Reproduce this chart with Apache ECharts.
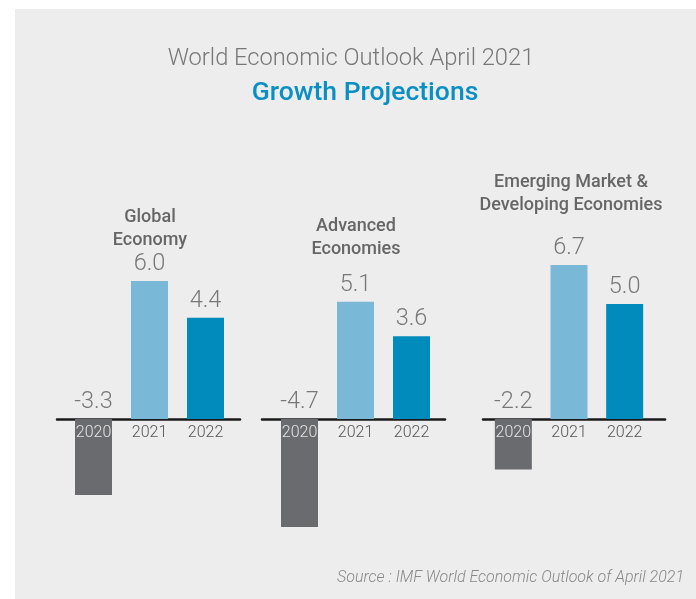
<!DOCTYPE html>
<html>
<head>
<meta charset="utf-8">
<script src="https://cdn.jsdelivr.net/npm/echarts@6/dist/echarts.min.js"></script>
<style>
  html, body { margin: 0; padding: 0; background: #ffffff; }
  #bg { position: absolute; left: 15px; top: 9px; width: 681px; height: 590px; background: #ededed; }
  #chart { position: absolute; left: 0; top: 0; width: 696px; height: 599px; }
</style>
</head>
<body>
<div id="bg"></div>
<div id="chart"></div>
<script>
const years = ['2020', '2021', '2022'];
const panelNames = ['Global\nEconomy', 'Advanced\nEconomies', 'Emerging Market &\nDeveloping Economies'];
const globalGrowth = [-3.3, 6.0, 4.4];
const advancedGrowth = [-4.7, 5.1, 3.6];
const emergingGrowth = [-2.2, 6.7, 5.0];
const panelValues = [globalGrowth, advancedGrowth, emergingGrowth];

const yearColors = ['#6a6b6f', '#7ab8d8', '#008bbd'];
const yearLabelColors = ['#e4e4e4', '#555555', '#555555'];

// layout (pixels)
const barGrids = [ {left: 65.5, width: 168}, {left: 271.5, width: 168}, {left: 485.5, width: 167} ];
const lineGrids = [ {left: 57, width: 183}, {left: 262, width: 183}, {left: 483, width: 182} ];
const panelTitlePos = [ {x: 145, y: 201}, {x: 351, y: 210}, {x: 566, y: 166} ];
const gridTop = 258, gridHeight = 276;
const yMin = -5, yMax = 7;
// distance from grid bottom to the zero line, so the year labels sit under the zero line
const zeroOffset = -(0 - yMin) * gridHeight / (yMax - yMin);

const FONT = 'Roboto';
const grid = [], xAxis = [], yAxis = [], series = [];
const title = [
  { text: 'World Economic Outlook April 2021', left: 346, top: 42, textAlign: 'center',
    textStyle: { fontFamily: FONT, fontSize: 23.7, fontWeight: 300, color: '#777777' } },
  { text: 'Growth Projections', left: 360, top: 75, textAlign: 'center',
    textStyle: { fontFamily: FONT, fontSize: 26.5, fontWeight: 500, color: '#0a8fc4' } },
  { text: 'Source : IMF World Economic Outlook of April 2021', right: 7, top: 565,
    textStyle: { fontFamily: FONT, fontSize: 16, fontStyle: 'italic', fontWeight: 300, color: '#888888' } }
];

panelValues.forEach((vals, p) => {
  title.push({
    text: panelNames[p], left: panelTitlePos[p].x, top: panelTitlePos[p].y, textAlign: 'center',
    textStyle: { fontFamily: FONT, fontSize: 18, fontWeight: 500, color: '#666666', lineHeight: 23 }
  });
  // line grid (zero axis line)
  const lg = grid.length;
  grid.push({ left: lineGrids[p].left, width: lineGrids[p].width, top: gridTop, height: gridHeight });
  xAxis.push({ type: 'category', gridIndex: lg, data: years,
    axisLine: { show: true, onZero: true, lineStyle: { color: '#1a1a1a', width: 2.5 } },
    axisTick: { show: false }, axisLabel: { show: false }, splitLine: { show: false } });
  yAxis.push({ type: 'value', gridIndex: lg, min: yMin, max: yMax, show: false, splitLine: { show: false } });
  // bar grid
  const bg = grid.length;
  grid.push({ left: barGrids[p].left, width: barGrids[p].width, top: gridTop, height: gridHeight });
  xAxis.push({ type: 'category', gridIndex: bg, position: 'bottom', offset: zeroOffset,
    data: years.map((y, i) => ({ value: y, textStyle: { color: yearLabelColors[i] } })),
    axisLine: { show: false, onZero: false },
    axisTick: { show: false },
    axisLabel: { fontFamily: FONT, fontSize: 16, fontWeight: 300, margin: 6, color: '#555555' },
    splitLine: { show: false }, z: 5 });
  yAxis.push({ type: 'value', gridIndex: bg, min: yMin, max: yMax, show: false, splitLine: { show: false } });
  series.push({
    type: 'bar', xAxisIndex: bg, yAxisIndex: bg, barWidth: 37,
    data: vals.map((v, i) => ({ value: v, itemStyle: { color: yearColors[i] } })),
    label: { show: true, position: 'top', distance: 5, fontFamily: FONT, fontSize: 23.5, fontWeight: 300,
      color: '#777777', formatter: (d) => d.value.toFixed(1) },
    z: 2
  });
});

const chart = echarts.init(document.getElementById('chart'), null, { renderer: 'canvas' });
chart.setOption({ animation: false, backgroundColor: 'transparent', title, grid, xAxis, yAxis, series });
</script>
</body>
</html>
